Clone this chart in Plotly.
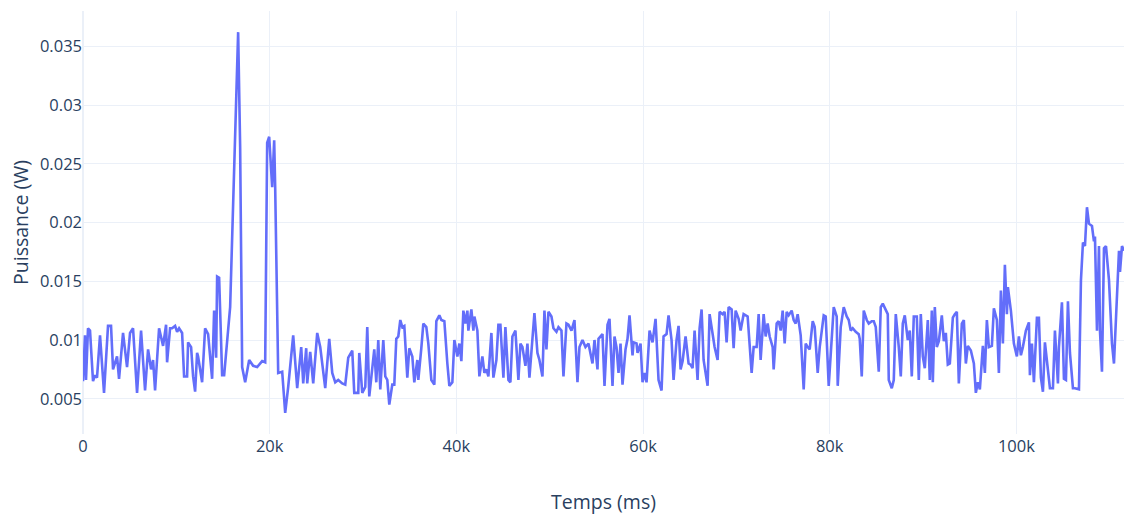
import plotly.graph_objects as go

# Time (ms) and power (W)
temps = [
    0, 214, 322, 536, 751, 1072, 1287, 1501, 1823, 2252, 2681, 3003, 3217, 3646, 3861, 4290,
    4719, 5040, 5362, 5791, 6220, 6649, 6971, 7292, 7507, 7721, 8150, 8579, 8901, 9008, 9330,
    9544, 9866, 10081, 10295, 10617, 10831, 11153, 11260, 11582, 11796, 12011, 12225, 12333,
    12762, 13083, 13405, 13834, 14048, 14263, 14370, 14585, 14906, 15121, 15764, 16300, 16622,
    16837, 17051, 17373, 17802, 18231, 18660, 19196, 19518, 19732, 19947, 20268, 20483, 20590,
    20912, 21341, 21662, 21984, 22520, 22949, 23378, 23593, 23915, 24022, 24343, 24665, 25094,
    25416, 25952, 26381, 26703, 27024, 27346, 27775, 28097, 28419, 28848, 29062, 29491, 29598,
    29920, 30242, 30456, 30671, 30992, 31207, 31421, 31636, 31850, 32172, 32386, 32601, 32815,
    33137, 33352, 33566, 33781, 33995, 34210, 34424, 34746, 34960, 35282, 35496, 35818, 35925,
    36247, 36462, 36783, 36998, 37320, 37641, 37856, 38177, 38392, 38714, 39035, 39250, 39572,
    39786, 40108, 40322, 40537, 40751, 40966, 41180, 41287, 41609, 41824, 41931, 42253, 42467,
    42789, 43003, 43218, 43432, 43754, 43968, 44290, 44505, 44719, 45041, 45255, 45577, 45791,
    46006, 46328, 46649, 46864, 47078, 47400, 47615, 47829, 48151, 48365, 48687, 48901, 49223,
    49438, 49652, 49867, 50188, 50403, 50725, 50939, 51261, 51475, 51797, 52011, 52333, 52655,
    52977, 53191, 53513, 53834, 54156, 54585, 54800, 55121, 55229, 55658, 55872, 56194, 56408,
    56730, 56944, 57159, 57373, 57588, 57802, 58124, 58339, 58553, 58875, 58982, 59304, 59411,
    59733, 59947, 60162, 60376, 60698, 61020, 61341, 61663, 61985, 62199, 62521, 62735, 63057,
    63272, 63593, 63808, 64022, 64237, 64558, 64880, 65095, 65309, 65524, 65845, 66060, 66274,
    66489, 66918, 67132, 67454, 67668, 67990, 68205, 68526, 68741, 68955, 69170, 69492, 69706,
    69920, 70242, 70457, 70778, 71207, 71422, 71636, 71851, 72173, 72387, 72601, 72923, 73138,
    73352, 73567, 73888, 73996, 74317, 74532, 74746, 74961, 75175, 75390, 75604, 75926, 76140,
    76355, 76569, 76891, 77213, 77427, 77642, 77856, 78178, 78392, 78714, 78929, 79358, 79572,
    79894, 80216, 80430, 80752, 80859, 81181, 81502, 81824, 82039, 82253, 82468, 82789, 83111,
    83218, 83433, 83647, 83969, 84183, 84505, 84720, 84934, 85256, 85470, 85685, 86006, 86221,
    86328, 86650, 86864, 87079, 87401, 87615, 87830, 88044, 88366, 88580, 88795, 89009, 89331,
    89545, 89760, 89974, 90189, 90511, 90725, 90940, 91047, 91261, 91476, 91690, 92012, 92226,
    92441, 92655, 92870, 93192, 93406, 93621, 93835, 94157, 94371, 94586, 94800, 95122, 95444,
    95658, 95873, 96087, 96409, 96623, 96838, 97052, 97374, 97588, 97910, 98125, 98339, 98554,
    98768, 98983, 99090, 99411, 99733, 100055, 100269, 100484, 100698, 101020, 101342, 101449,
    101664, 101878, 102200, 102414, 102629, 102843, 103058, 103379, 103594, 103916, 104130,
    104452, 104559, 104881, 105095, 105310, 105524, 105739, 106060, 106275, 106704, 106918,
    107133, 107347, 107562, 107776, 108098, 108312, 108420, 108634, 108849, 108956, 109170,
    109385, 109599, 109921, 110243, 110457, 110672, 110993, 111101, 111315, 111530,
]

puissance = [
    0.0065, 0.0104, 0.0066, 0.0110, 0.0108, 0.0065, 0.0070, 0.0068, 0.0104, 0.0055, 0.0112,
    0.0112, 0.0075, 0.0086, 0.0067, 0.0106, 0.0077, 0.0106, 0.0110, 0.0055, 0.0108, 0.0057,
    0.0092, 0.0075, 0.0083, 0.0057, 0.0110, 0.0095, 0.0113, 0.0081, 0.0110, 0.0110, 0.0112,
    0.0107, 0.0110, 0.0106, 0.0069, 0.0069, 0.0098, 0.0094, 0.0069, 0.0056, 0.0089, 0.0086,
    0.0064, 0.0110, 0.0105, 0.0067, 0.0125, 0.0085, 0.0154, 0.0153, 0.0070, 0.0070, 0.0128,
    0.0287, 0.0362, 0.0264, 0.0077, 0.0064, 0.0083, 0.0078, 0.0077, 0.0082, 0.0081, 0.0268,
    0.0273, 0.0230, 0.0270, 0.0230, 0.0072, 0.0073, 0.0038, 0.0060, 0.0104, 0.0059, 0.0094,
    0.0063, 0.0093, 0.0063, 0.0090, 0.0063, 0.0106, 0.0094, 0.0059, 0.0101, 0.0072, 0.0064,
    0.0066, 0.0063, 0.0062, 0.0085, 0.0091, 0.0055, 0.0055, 0.0089, 0.0055, 0.0060, 0.0111,
    0.0052, 0.0080, 0.0092, 0.0064, 0.0100, 0.0058, 0.0100, 0.0069, 0.0066, 0.0045, 0.0062,
    0.0062, 0.0101, 0.0103, 0.0117, 0.0111, 0.0112, 0.0068, 0.0093, 0.0086, 0.0064, 0.0083,
    0.0066, 0.0093, 0.0114, 0.0111, 0.0097, 0.0066, 0.0062, 0.0116, 0.0121, 0.0117, 0.0116,
    0.0080, 0.0061, 0.0064, 0.0100, 0.0086, 0.0097, 0.0082, 0.0125, 0.0114, 0.0125, 0.0108,
    0.0126, 0.0108, 0.0120, 0.0108, 0.0069, 0.0086, 0.0072, 0.0075, 0.0069, 0.0106, 0.0068,
    0.0083, 0.0113, 0.0113, 0.0068, 0.0111, 0.0066, 0.0064, 0.0103, 0.0108, 0.0066, 0.0097,
    0.0094, 0.0078, 0.0097, 0.0068, 0.0105, 0.0123, 0.0089, 0.0083, 0.0069, 0.0125, 0.0092,
    0.0124, 0.0120, 0.0110, 0.0107, 0.0111, 0.0108, 0.0069, 0.0114, 0.0113, 0.0108, 0.0117,
    0.0064, 0.0094, 0.0100, 0.0094, 0.0097, 0.0080, 0.0100, 0.0075, 0.0101, 0.0105, 0.0061,
    0.0113, 0.0118, 0.0061, 0.0103, 0.0094, 0.0072, 0.0097, 0.0062, 0.0092, 0.0101, 0.0121,
    0.0087, 0.0098, 0.0097, 0.0089, 0.0097, 0.0064, 0.0072, 0.0064, 0.0108, 0.0098, 0.0118,
    0.0066, 0.0057, 0.0103, 0.0105, 0.0121, 0.0100, 0.0066, 0.0100, 0.0112, 0.0075, 0.0082,
    0.0103, 0.0080, 0.0079, 0.0076, 0.0108, 0.0066, 0.0110, 0.0126, 0.0083, 0.0061, 0.0122,
    0.0103, 0.0094, 0.0083, 0.0124, 0.0122, 0.0124, 0.0098, 0.0128, 0.0126, 0.0093, 0.0125,
    0.0118, 0.0108, 0.0122, 0.0120, 0.0092, 0.0072, 0.0094, 0.0094, 0.0122, 0.0083, 0.0122,
    0.0103, 0.0114, 0.0103, 0.0094, 0.0075, 0.0114, 0.0116, 0.0108, 0.0125, 0.0097, 0.0124,
    0.0121, 0.0125, 0.0117, 0.0114, 0.0122, 0.0104, 0.0058, 0.0097, 0.0094, 0.0092, 0.0116,
    0.0111, 0.0072, 0.0094, 0.0121, 0.0120, 0.0061, 0.0103, 0.0128, 0.0120, 0.0061, 0.0111,
    0.0128, 0.0120, 0.0117, 0.0108, 0.0110, 0.0107, 0.0105, 0.0101, 0.0069, 0.0125, 0.0117,
    0.0114, 0.0116, 0.0116, 0.0111, 0.0073, 0.0128, 0.0131, 0.0126, 0.0122, 0.0066, 0.0059,
    0.0066, 0.0122, 0.0094, 0.0069, 0.0114, 0.0121, 0.0100, 0.0108, 0.0069, 0.0120, 0.0120,
    0.0066, 0.0122, 0.0086, 0.0076, 0.0117, 0.0066, 0.0125, 0.0064, 0.0128, 0.0094, 0.0099,
    0.0121, 0.0099, 0.0106, 0.0079, 0.0080, 0.0119, 0.0122, 0.0124, 0.0063, 0.0114, 0.0117,
    0.0080, 0.0095, 0.0091, 0.0080, 0.0055, 0.0064, 0.0058, 0.0095, 0.0072, 0.0117, 0.0094,
    0.0095, 0.0127, 0.0117, 0.0072, 0.0142, 0.0097, 0.0164, 0.0122, 0.0145, 0.0125, 0.0097,
    0.0086, 0.0103, 0.0087, 0.0094, 0.0108, 0.0115, 0.0070, 0.0097, 0.0064, 0.0119, 0.0119,
    0.0068, 0.0056, 0.0098, 0.0071, 0.0059, 0.0059, 0.0108, 0.0063, 0.0094, 0.0132, 0.0067,
    0.0066, 0.0133, 0.0089, 0.0059, 0.0059, 0.0058, 0.0151, 0.0183, 0.0180, 0.0213, 0.0199,
    0.0197, 0.0184, 0.0188, 0.0108, 0.0180, 0.0108, 0.0073, 0.0178, 0.0180, 0.0151, 0.0097,
    0.0080, 0.0122, 0.0176, 0.0158, 0.0180, 0.0176,
]

fig = go.Figure(
    go.Scatter(
        x=temps,
        y=puissance,
        mode="lines",
        line=dict(color="#636efa", width=2.6),
    )
)

fig.update_layout(
    template="plotly_white",
    width=1124,
    height=515,
    margin=dict(l=83, r=0, t=11, b=81),
    font=dict(family="Open Sans, verdana, arial, sans-serif", size=16, color="#2a3f5f"),
    xaxis=dict(
        title=dict(text="Temps (ms)", font=dict(size=19.5), standoff=41),
        tickfont=dict(size=16.5),
        automargin=False,
    ),
    yaxis=dict(
        title=dict(text="Puissance (W)", font=dict(size=19.5), standoff=6),
        tickfont=dict(size=16.5),
        automargin=False,
    ),
    showlegend=False,
)

fig.write_html(
    "out.html",
    config={"displayModeBar": False},
    post_script="document.body.style.margin='0';document.body.style.overflow='hidden';",
)
